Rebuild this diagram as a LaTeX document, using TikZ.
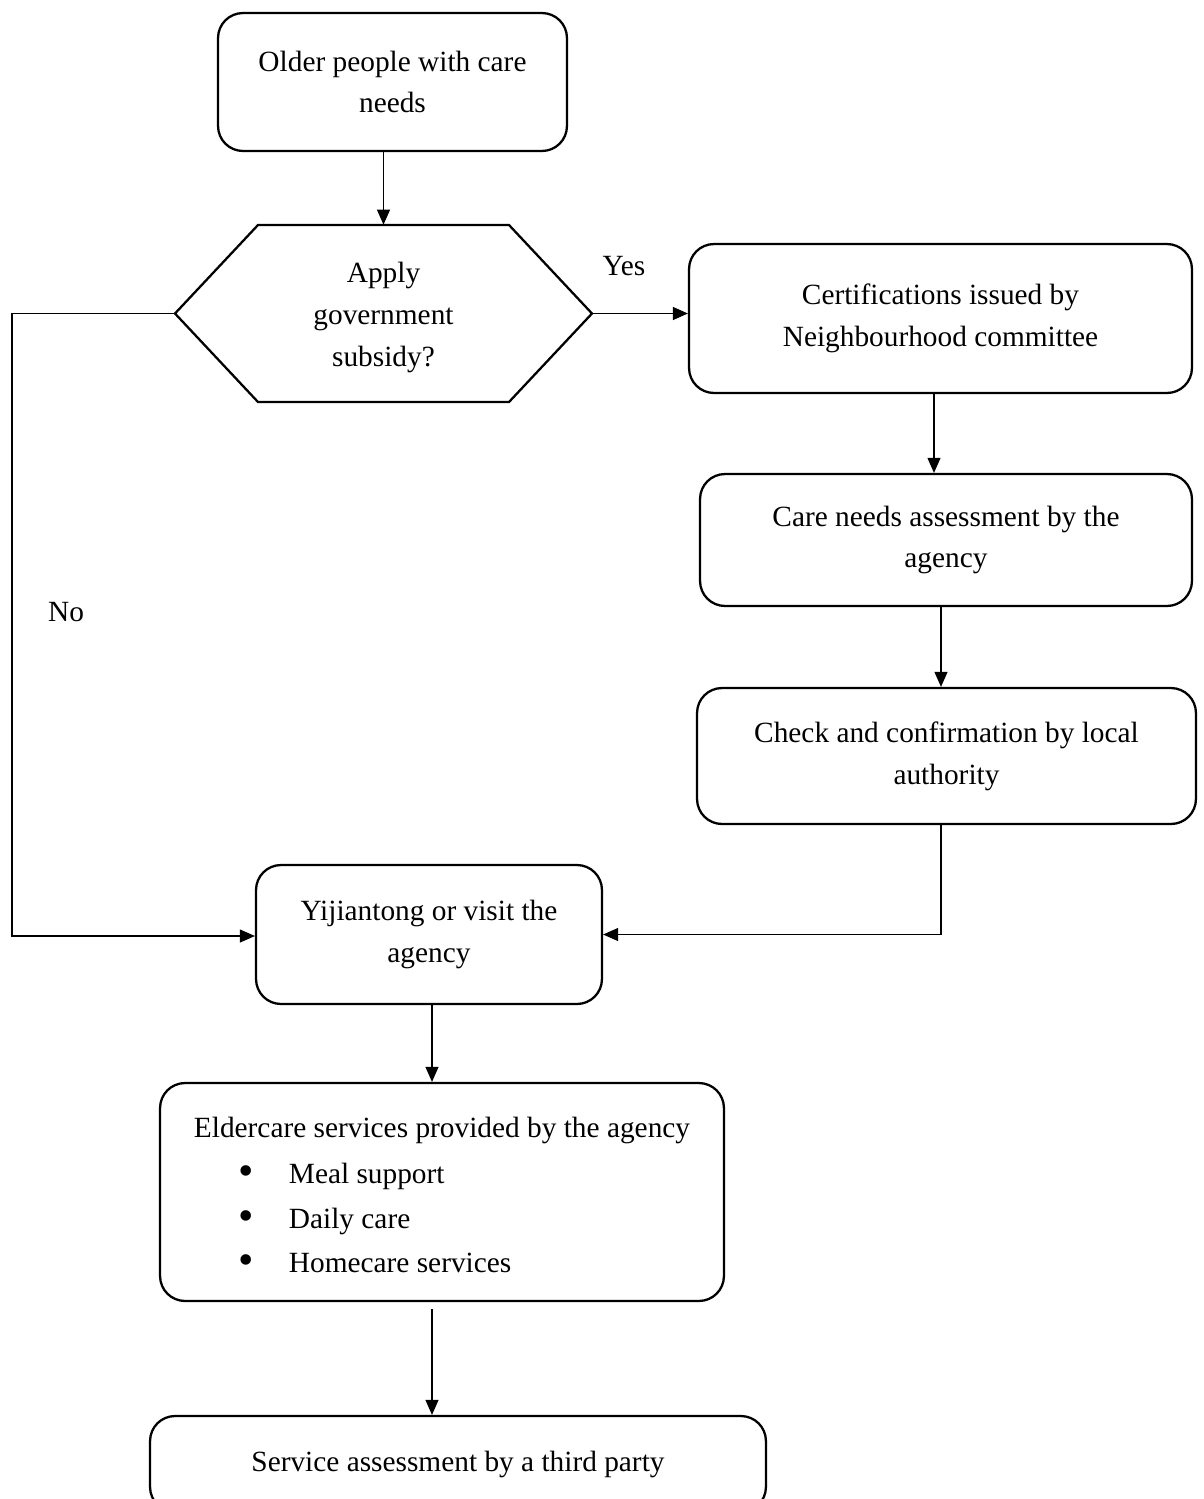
\documentclass[tikz,border=0pt]{standalone}
\usepackage{fontspec}
\usepackage{graphicx}
\setmainfont{Liberation Serif}
\usetikzlibrary{arrows.meta}
\begin{document}
\begin{tikzpicture}[x=0.02cm,y=-0.02cm,
  box/.style={draw, line width=1.3pt, rounded corners=0.5cm, align=center, inner sep=0pt, font=\fontsize{16.7}{23.8}\selectfont},
  arr/.style={line width=0.6pt, -{Triangle[length=0.3cm,width=0.26cm]}},
  txt/.style={font=\fontsize{16.7}{23.8}\selectfont, inner sep=0pt, align=center},
  lbl/.style={font=\fontsize{16.7}{23.8}\selectfont, inner sep=0pt}]
\useasboundingbox (0,0) rectangle (1204,1499);
\clip (0,0) rectangle (1204,1499);
\fill[white] (0,0) rectangle (1204,1499);

\node[box, minimum width=6.98cm, minimum height=2.76cm] (older) at (392.5,82) {Older people with care\\needs};
\node[minimum width=8.34cm, minimum height=3.54cm, inner sep=0pt] (hex) at (383.5,313.5) {};
\draw[line width=1.3pt, line join=miter] (175,313.5) -- (258,225) -- (509,225) -- (592,313.5) -- (509,402) -- (258,402) -- cycle;
\node[txt] (hextext) at (383.5,317.5) {Apply\\government\\subsidy?};
\node[box, minimum width=10.06cm, minimum height=2.98cm] (cert) at (940.5,318.5) {Certifications issued by\\Neighbourhood committee};
\node[box, minimum width=9.84cm, minimum height=2.64cm] (care) at (946,540) {Care needs assessment by the\\agency};
\node[box, minimum width=9.98cm, minimum height=2.72cm] (check) at (946.5,756) {Check and confirmation by local\\authority};
\node[box, minimum width=6.92cm, minimum height=2.78cm] (yij) at (429,934.5) {Yijiantong or visit the\\agency};
\node[box, minimum width=11.28cm, minimum height=4.36cm] (elder) at (442,1192) {};
\node[txt, align=left] (eldertext) at (442,1196) {Eldercare services provided by the agency\\[0.08cm]
\makebox[1.9cm][l]{\hspace*{0.9cm}\raisebox{-0.04cm}{\scalebox{1.5}{•}}}Meal support\\[0.06cm]
\makebox[1.9cm][l]{\hspace*{0.9cm}\raisebox{-0.04cm}{\scalebox{1.5}{•}}}Daily care\\[0.06cm]
\makebox[1.9cm][l]{\hspace*{0.9cm}\raisebox{-0.04cm}{\scalebox{1.5}{•}}}Homecare services};
\node[box, minimum width=12.32cm, minimum height=1.92cm] (serv) at (458,1464) {Service assessment by a third party};

\coordinate (x1) at (934,0);
\coordinate (x2) at (941,0);
\coordinate (x3) at (432,0);
\coordinate (nc) at (12,936);

\draw[arr] (older.south -| hex.north) -- (hex.north);
\draw[arr] (hex.east) -- (hex.east -| cert.west);
\draw[arr] (hex.west) -| (nc) -- (nc -| yij.west);
\draw[arr] (cert.south -| x1) -- (care.north -| x1);
\draw[arr] (care.south -| x2) -- (check.north -| x2);
\draw[arr] (check.south -| x2) |- (yij.east);
\draw[arr] (yij.south -| x3) -- (elder.north -| x3);
\draw[arr, shorten <=0.14cm] (elder.south -| x3) -- (serv.north -| x3);

\node[lbl] (yes) at (624,266) {Yes};
\node[lbl] (no) at (66,612) {No};
\end{tikzpicture}
\end{document}
